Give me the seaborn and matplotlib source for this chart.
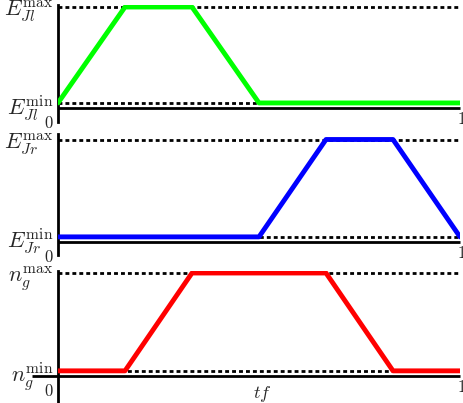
import numpy as np
import seaborn as sns
import matplotlib.pyplot as plt

# knot times (normalised to final time tf) and piecewise-linear profiles
t_knots = [0, 1/6, 1/3, 1/2, 2/3, 5/6, 1]
lo, hi = 0.05, 1.0
E_Jl = [lo, hi, hi, lo, lo, lo, lo]
E_Jr = [lo, lo, lo, lo, hi, hi, lo]
n_g = [lo, lo, hi, hi, hi, lo, lo]

series = [E_Jl, E_Jr, n_g]
colors = ['#00ff00', '#0000ff', '#ff0000']
labels_max = [r'$E_{Jl}^{\max}$', r'$E_{Jr}^{\max}$', r'$n_g^{\max}$']
labels_min = [r'$E_{Jl}^{\min}$', r'$E_{Jr}^{\min}$', r'$n_g^{\min}$']

sns.set_style('white')
plt.rcParams['mathtext.fontset'] = 'cm'
plt.rcParams['font.family'] = 'serif'
plt.rcParams['font.serif'] = ['DejaVu Serif']

W, H = 463, 403
fig = plt.figure(figsize=(W / 100, H / 100), dpi=100)

# panel geometry in pixels: (top of axis line, bottom of axis line, x-axis row, max row)
geom = [(5, 122, 108, 7), (134, 255, 242, 139.5), (271, 403, 376, 273)]

for i, (vals, col) in enumerate(zip(series, colors)):
    top, bot, y0, ymax = geom[i]
    ax = fig.add_axes([58 / W, 1 - bot / H, 402 / W, (bot - top) / H])
    s = y0 - ymax
    ax.set_ylim((y0 - bot) / s, (y0 - top) / s)
    ax.set_xlim(0, 1)

    ax.plot([0, 1], [hi, hi], color='k', lw=2, ls=(0, (1.4, 1.1)))
    ax.plot([0, 1], [lo, lo], color='k', lw=2, ls=(0, (1.4, 1.1)))
    xstart = -0.065 if i == 2 else 0
    ax.plot([xstart, 1], [0, 0], color='k', lw=2, clip_on=False,
            solid_capstyle='butt')
    sns.lineplot(x=t_knots, y=vals, ax=ax, color=col, lw=3.5, sort=False,
                 zorder=3)

    for side in ['top', 'right', 'bottom']:
        ax.spines[side].set_visible(False)
    ax.spines['left'].set_linewidth(2)
    ax.spines['left'].set_color('k')

    ax.set_xticks([])
    ax.set_yticks([lo, hi])
    ax.set_yticklabels([labels_min[i], labels_max[i]], fontsize=16)
    ax.tick_params(axis='y', length=0, pad=3)

    ax.annotate(r'$0$', xy=(0, 0), xytext=(-3, -5), textcoords='offset points',
                ha='right', va='top', fontsize=12)
    ax.annotate(r'$1$', xy=(1, 0), xytext=(1, -2), textcoords='offset points',
                ha='center', va='top', fontsize=12)
    if i == 2:
        ax.annotate(r'$tf$', xy=(0.5, 0), xytext=(2, -6),
                    textcoords='offset points', ha='center', va='top',
                    fontsize=13)

fig.savefig('out.png', dpi=100)
